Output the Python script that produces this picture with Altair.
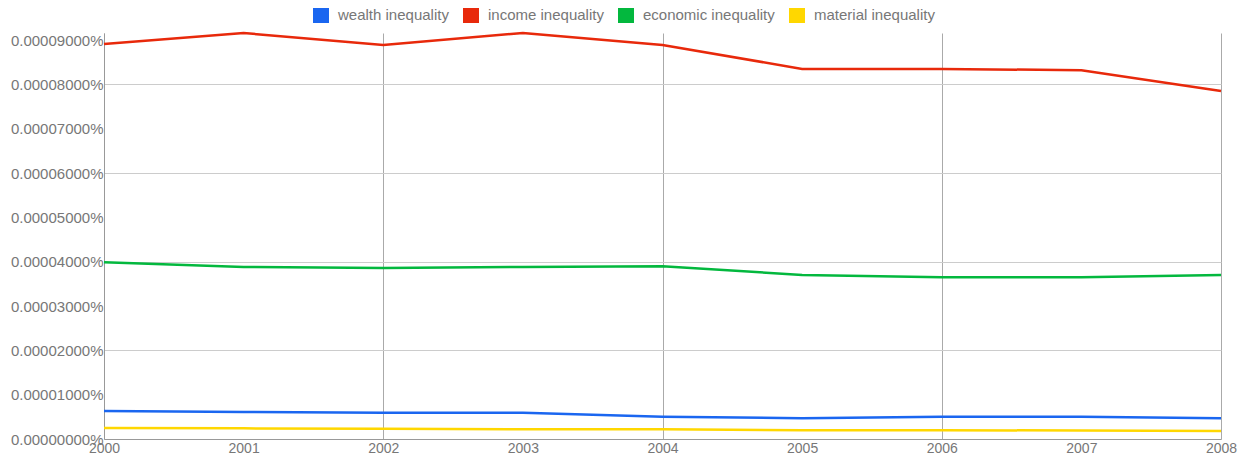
import altair as alt
import pandas as pd

years = [2000, 2001, 2002, 2003, 2004, 2005, 2006, 2007, 2008]
series_names = ["wealth inequality", "income inequality", "economic inequality", "material inequality"]
wealth = [0.0000063, 0.0000061, 0.0000059, 0.0000059, 0.0000050, 0.0000047, 0.0000050, 0.0000050, 0.0000047]
income = [0.0000891, 0.0000916, 0.0000889, 0.0000916, 0.0000889, 0.0000835, 0.0000835, 0.0000832, 0.0000785]
economic = [0.0000399, 0.0000388, 0.0000386, 0.0000388, 0.0000390, 0.0000370, 0.0000365, 0.0000365, 0.0000370]
material = [0.0000025, 0.0000024, 0.0000023, 0.0000022, 0.0000022, 0.0000020, 0.0000020, 0.0000019, 0.0000018]
colors = ["#1a66f0", "#e8290b", "#03b83e", "#ffd700"]

rows = []
for name, vals in zip(series_names, [wealth, income, economic, material]):
    for y, v in zip(years, vals):
        rows.append({"year": y, "value": v, "series": name})
df = pd.DataFrame(rows)

y_ticks = [i * 0.00001 for i in range(10)]

chart = alt.Chart(df).mark_line(strokeWidth=2.5).encode(
    x=alt.X("year:Q", scale=alt.Scale(domain=[2000, 2008], nice=False),
            axis=alt.Axis(title=None, values=years, format="d", tickSize=0,
                          labelPadding=2, labelFontSize=14, labelColor="#777777",
                          labelFont="Liberation Sans", domainColor="#999999",
                          labelFlush=False,
                          gridColor={"condition": {"test": "datum.value % 2 == 0", "value": "#aaaaaa"},
                                     "value": "transparent"})),
    y=alt.Y("value:Q", scale=alt.Scale(domain=[0, 0.0000916], nice=False, zero=True),
            axis=alt.Axis(title=None, values=y_ticks, tickSize=0, labelPadding=1,
                          labelExpr="format(datum.value, '.8f') + '%'",
                          labelFontSize=15, labelColor="#777777", labelFont="Liberation Sans",
                          domainColor="#999999",
                          gridColor={"condition": {"test": "round(datum.value * 100000) % 2 == 0", "value": "#cccccc"},
                                     "value": "transparent"})),
    color=alt.Color("series:N", scale=alt.Scale(domain=series_names, range=colors),
                    sort=series_names,
                    legend=alt.Legend(title=None, orient="none", direction="horizontal",
                                      legendX=209, legendY=-26, symbolType="square",
                                      symbolSize=64, symbolStrokeWidth=8, symbolOpacity=1,
                                      labelFontSize=15, labelColor="#777777",
                                      labelFont="Liberation Sans", columnPadding=2,
                                      labelOffset=9, padding=0)),
).properties(
    width=1117, height=406,
    autosize=alt.AutoSizeParams(type="none"),
    padding={"left": 96, "top": 25, "right": 20, "bottom": 20},
).configure_view(stroke=None).configure_axis(gridWidth=1)

chart.save("out.html", embed_options={"renderer": "svg", "actions": False})
